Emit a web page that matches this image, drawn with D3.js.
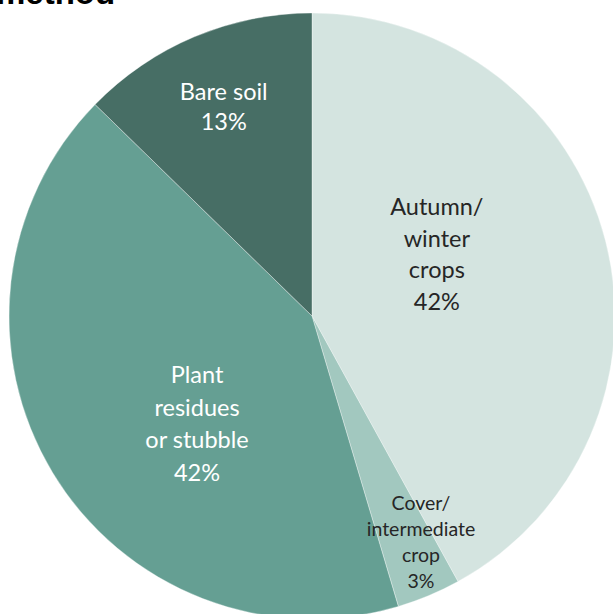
<!DOCTYPE html>
<html>
<head>
<meta charset="utf-8">
<script src="https://cdn.jsdelivr.net/npm/d3@7/dist/d3.min.js"></script>
<style>
  html, body { margin: 0; padding: 0; background: #ffffff; }
  svg { display: block; }
</style>
</head>
<body>
<svg id="chart" width="613" height="614"></svg>
<script>
// Share of fields by winter soil cover method
const categories = ["Autumn/\nwinter\ncrops", "Cover/\nintermediate\ncrop", "Plant\nresidues\nor stubble", "Bare soil"];
const shares = [42.0, 3.4, 41.9, 12.7];
const sliceColors = ["#d4e4e0", "#a2c8bf", "#659f93", "#476e65"];
const labelColors = ["#262626", "#262626", "#ffffff", "#ffffff"];

// Label placement: fraction of radius and angular nudge (degrees) per slice
const labelRadius = [0.46, 0.83, 0.52, 0.75];
const labelNudge = [-12, -3, -12, 0];
const labelSize = [23.5, 19.5, 23.5, 23.5];
const lineGap = [31.5, 26, 32.5, 30];

const width = 613, height = 614;
const cx = 312, cy = 316, radius = 303;

const svg = d3.select("#chart");

// Title (runs off the top edge of the frame)
svg.append("text")
  .attr("x", -4)
  .attr("y", 4)
  .attr("font-family", "'Liberation Sans', Arial, sans-serif")
  .attr("font-weight", "bold")
  .attr("font-size", 33)
  .attr("fill", "#000")
  .text("method");

const pie = d3.pie().sort(null).value(d => d);
const arcs = pie(shares);
const arc = d3.arc().innerRadius(0).outerRadius(radius);

const g = svg.append("g").attr("transform", `translate(${cx},${cy})`);

g.selectAll("path.slice")
  .data(arcs)
  .join("path")
  .attr("class", "slice")
  .attr("d", arc)
  .attr("fill", (d, i) => sliceColors[i])
  .attr("stroke", "#ffffff")
  .attr("stroke-width", 0.6)
  .attr("stroke-opacity", 0.6);

g.selectAll("text.label")
  .data(arcs)
  .join("text")
  .attr("class", "label")
  .attr("text-anchor", "middle")
  .attr("font-family", "Lato, 'Open Sans', sans-serif")
  .attr("font-size", (d, i) => labelSize[i])
  .attr("fill", (d, i) => labelColors[i])
  .each(function (d, i) {
    const mid = (d.startAngle + d.endAngle) / 2 + labelNudge[i] * Math.PI / 180;
    const r = radius * labelRadius[i];
    const x = Math.sin(mid) * r;
    const y = -Math.cos(mid) * r;
    const lines = categories[i].split("\n").concat([Math.round(d.data) + "%"]);
    const n = lines.length;
    const t = d3.select(this);
    lines.forEach((ln, k) => {
      t.append("tspan")
        .attr("x", x)
        .attr("y", y + (k - (n - 1) / 2) * lineGap[i])
        .attr("dy", "0.35em")
        .text(ln);
    });
  });
</script>
</body>
</html>
